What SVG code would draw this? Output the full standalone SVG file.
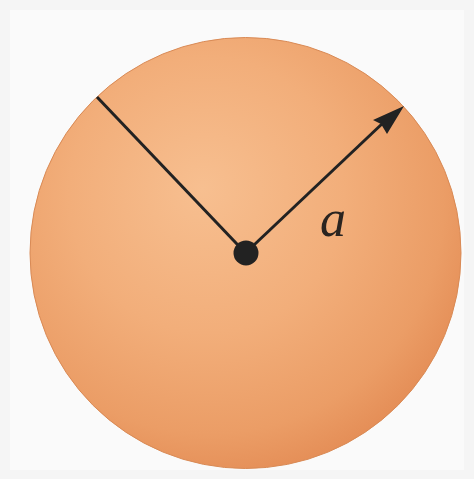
<svg xmlns="http://www.w3.org/2000/svg" width="474" height="479" viewBox="0 0 474 479">
  <style>
    .radius { stroke: #222; stroke-width: 3; fill: none; }
    .label { font-family: "Liberation Serif", "DejaVu Serif", serif; font-style: italic; font-size: 52px; fill: #2a2420; }
  </style>
  <defs>
    <radialGradient id="sphere" cx="0.42" cy="0.38" r="0.64" fx="0.40" fy="0.35">
      <stop offset="0" stop-color="#f7bf90"/>
      <stop offset="0.5" stop-color="#f2ae7a"/>
      <stop offset="0.85" stop-color="#eb9d66"/>
      <stop offset="1" stop-color="#e58f58"/>
    </radialGradient>
  </defs>
  <rect x="0" y="0" width="474" height="479" fill="#f5f5f5"/>
  <rect x="10" y="10" width="454" height="460" fill="#fafafa"/>
  <g id="sphere-node">
    <circle cx="245.5" cy="253" r="215.5" fill="url(#sphere)" stroke="#d98a55" stroke-width="1"/>
  </g>
  <g id="connectors">
    <line class="radius" x1="245.5" y1="253" x2="97" y2="97"/>
    <line class="radius" x1="245.5" y1="253" x2="384" y2="122"/>
    <path d="M404,106 L373,120 L381,124 L387,134 Z" fill="#222"/>
  </g>
  <g id="center">
    <circle cx="246" cy="253" r="12.5" fill="#222"/>
  </g>
  <g id="label-a">
    <text class="label" x="320" y="236">a</text>
  </g>
</svg>
